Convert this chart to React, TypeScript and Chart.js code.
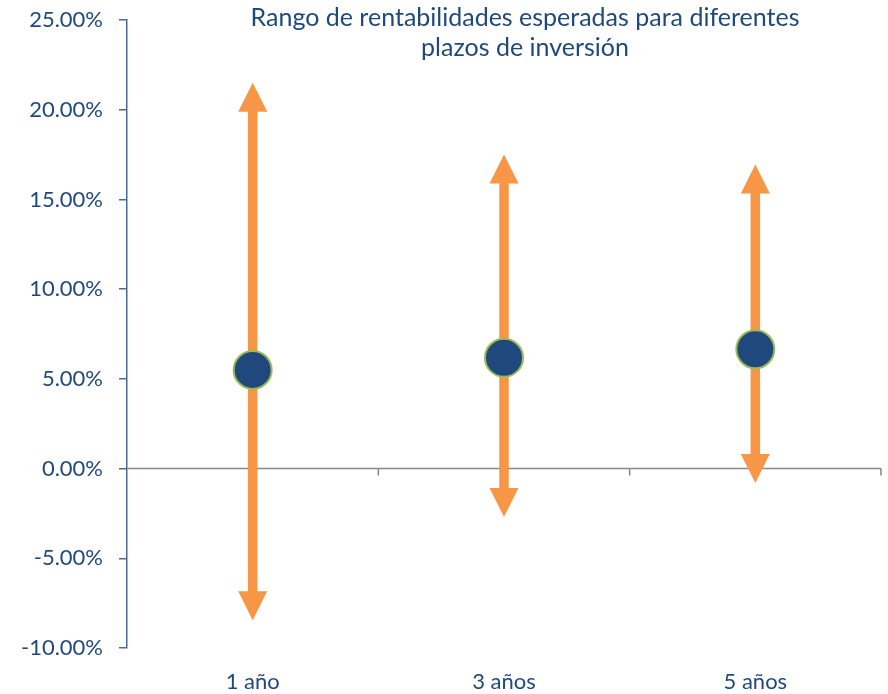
import React, { useEffect, useRef } from "react";
import { Chart, registerables } from "chart.js";

Chart.register(...registerables);

const categories = ["1 año", "3 años", "5 años"];
const expectedReturn = [5.5, 6.18, 6.65];
const highReturn = [21.5, 17.5, 16.95];
const lowReturn = [-8.45, -2.7, -0.8];
const titleLines = ["Rango de rentabilidades esperadas para diferentes", "plazos de inversión"];

const BLUE = "#1F497D";
const ORANGE = "#F79646";
const FONT = "Lato";

const rangePlugin = {
  id: "rangeArrows",
  beforeDatasetsDraw(chart: any) {
    const { ctx, chartArea } = chart;
    const x = chart.scales.x;
    const y = chart.scales.y;
    const y0 = y.getPixelForValue(0);
    ctx.save();
    ctx.strokeStyle = "#878787";
    ctx.lineWidth = 1.5;
    ctx.beginPath();
    ctx.moveTo(chartArea.left, y0);
    ctx.lineTo(chartArea.right, y0);
    const step = categories.length > 1 ? x.getPixelForValue(1) - x.getPixelForValue(0) : chartArea.width;
    for (let i = 0; i < categories.length; i++) {
      const bx = x.getPixelForValue(i) + step / 2;
      ctx.moveTo(bx, y0);
      ctx.lineTo(bx, y0 + 7);
    }
    ctx.stroke();

    ctx.fillStyle = ORANGE;
    const shaft = 9.5;
    const headLen = 29;
    const headHalf = 14.5;
    for (let i = 0; i < categories.length; i++) {
      const cx = x.getPixelForValue(i);
      const top = y.getPixelForValue(highReturn[i]);
      const bot = y.getPixelForValue(lowReturn[i]);
      ctx.fillRect(cx - shaft / 2, top + headLen - 1, shaft, bot - top - 2 * headLen + 2);
      ctx.beginPath();
      ctx.moveTo(cx, top);
      ctx.lineTo(cx + headHalf, top + headLen);
      ctx.lineTo(cx - headHalf, top + headLen);
      ctx.closePath();
      ctx.fill();
      ctx.beginPath();
      ctx.moveTo(cx, bot);
      ctx.lineTo(cx + headHalf, bot - headLen);
      ctx.lineTo(cx - headHalf, bot - headLen);
      ctx.closePath();
      ctx.fill();
    }
    ctx.restore();
  },
  afterDraw(chart: any) {
    const { ctx } = chart;
    ctx.save();
    ctx.fillStyle = BLUE;
    ctx.font = `25px ${FONT}`;
    ctx.textAlign = "center";
    ctx.textBaseline = "alphabetic";
    titleLines.forEach((line, i) => {
      ctx.fillText(line, 525, 26 + i * 30);
    });
    ctx.restore();
  },
};

export default function App() {
  const ref = useRef<HTMLCanvasElement>(null);
  useEffect(() => {
    if (!ref.current) return;
    const chart = new Chart(ref.current, {
      type: "line",
      data: {
        labels: categories,
        datasets: [
          {
            label: "Rentabilidad esperada",
            data: expectedReturn,
            showLine: false,
            pointRadius: 19,
            pointHoverRadius: 19,
            pointBackgroundColor: BLUE,
            pointBorderColor: "#9BBB59",
            pointBorderWidth: 2,
          },
        ],
      },
      options: {
        animation: false,
        responsive: false,
        devicePixelRatio: 1,
        layout: { autoPadding: false, padding: { top: 20, right: 7, bottom: 0, left: 0 } },
        plugins: {
          legend: { display: false },
          title: { display: false },
          tooltip: { enabled: false },
        },
        scales: {
          x: {
            type: "category",
            offset: true,
            grid: { display: false },
            border: { display: false },
            ticks: {
              color: BLUE,
              font: { family: FONT, size: 22 },
              padding: 13,
              maxRotation: 0,
            },
            afterFit(scale: any) {
              scale.height = 46;
              scale.paddingLeft = 0;
              scale.paddingRight = 0;
              scale.paddingTop = 0;
              scale.paddingBottom = 0;
            },
          },
          y: {
            min: -10,
            max: 25,
            border: { display: true, color: "#4A6A98", width: 1.5 },
            grid: {
              drawOnChartArea: false,
              drawTicks: true,
              tickLength: 8,
              color: "#4A6A98",
              lineWidth: 1.5,
            },
            ticks: {
              stepSize: 5,
              color: BLUE,
              font: { family: FONT, size: 22 },
              padding: 16,
              callback: (v: any) => Number(v).toFixed(2) + "%",
            },
            afterFit(scale: any) {
              scale.width = 127;
              scale.paddingLeft = 0;
              scale.paddingRight = 0;
              scale.paddingTop = 0;
              scale.paddingBottom = 0;
            },
          },
        },
      },
      plugins: [rangePlugin],
    });
    return () => chart.destroy();
  }, []);
  return (
    <div style={{ position: "absolute", left: 0, top: 0, width: 888, height: 694, background: "#fff" }}>
      <canvas ref={ref} width={888} height={694} style={{ width: 888, height: 694, display: "block" }} />
    </div>
  );
}
